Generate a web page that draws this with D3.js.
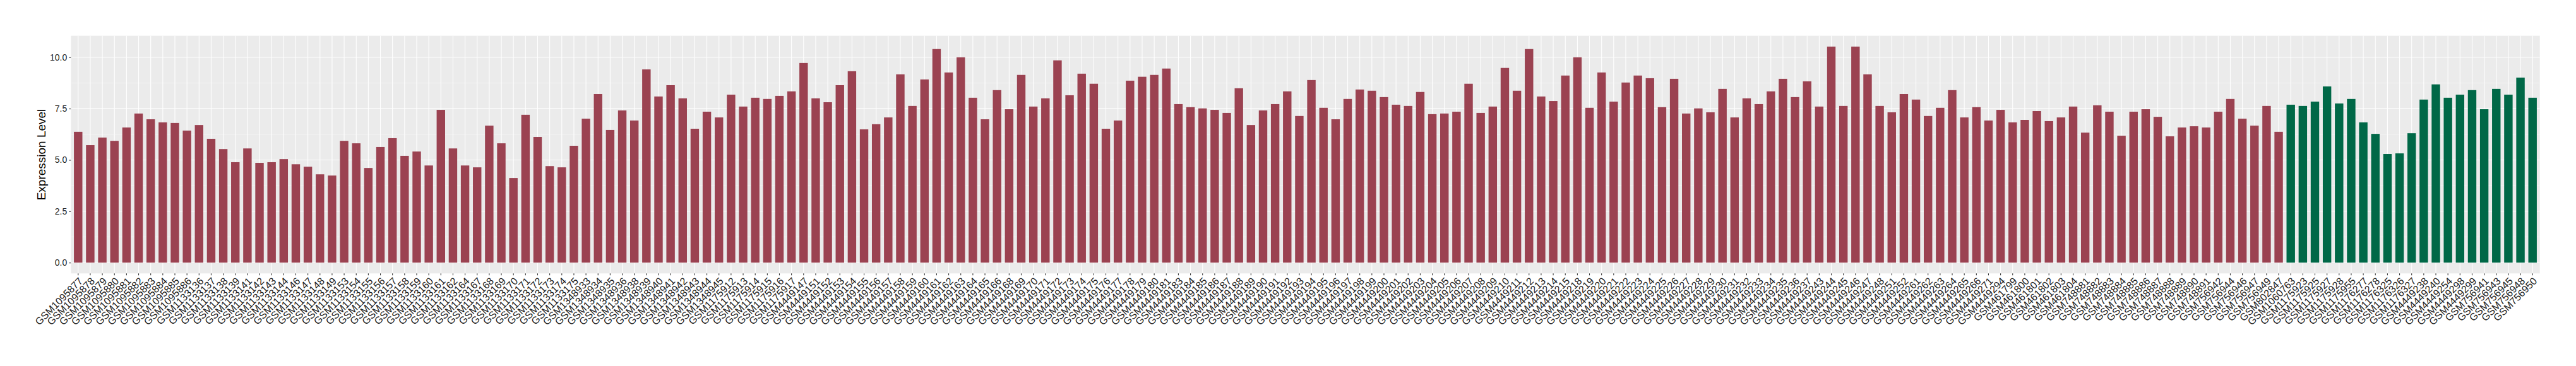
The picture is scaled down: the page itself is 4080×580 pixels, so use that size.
<!DOCTYPE html>
<html>
<head>
<meta charset="utf-8">
<script src="https://cdn.jsdelivr.net/npm/d3@7"></script>
<style>
  html, body { margin: 0; padding: 0; background: #ffffff; }
  svg { display: block; }
</style>
</head>
<body>
<svg id="chart" width="4080" height="580"></svg>
<script>
// ---- Data ----
const samples = [
  "GSM1095877","GSM1095878","GSM1095879","GSM1095880","GSM1095881","GSM1095882","GSM1095883","GSM1095884","GSM1095885","GSM1095886",
  "GSM1133136","GSM1133137","GSM1133138","GSM1133139","GSM1133141","GSM1133142","GSM1133143","GSM1133144","GSM1133146","GSM1133147",
  "GSM1133148","GSM1133149","GSM1133153","GSM1133154","GSM1133155","GSM1133156","GSM1133157","GSM1133158","GSM1133159","GSM1133160",
  "GSM1133161","GSM1133162","GSM1133164","GSM1133167","GSM1133168","GSM1133169","GSM1133170","GSM1133171","GSM1133172","GSM1133173",
  "GSM1133174","GSM1133175","GSM1348933","GSM1348934","GSM1348935","GSM1348936","GSM1348938","GSM1348939","GSM1348940","GSM1348941",
  "GSM1348942","GSM1348943","GSM1348944","GSM1348945","GSM1175912","GSM1175913","GSM1175914","GSM1175915","GSM1175916","GSM1175917",
  "GSM4449147","GSM4449151","GSM4449152","GSM4449153","GSM4449154","GSM4449155","GSM4449156","GSM4449157","GSM4449158","GSM4449159",
  "GSM4449160","GSM4449161","GSM4449162","GSM4449163","GSM4449164","GSM4449165","GSM4449166","GSM4449168","GSM4449169","GSM4449170",
  "GSM4449171","GSM4449172","GSM4449173","GSM4449174","GSM4449175","GSM4449176","GSM4449177","GSM4449178","GSM4449179","GSM4449180",
  "GSM4449181","GSM4449183","GSM4449184","GSM4449185","GSM4449186","GSM4449187","GSM4449188","GSM4449189","GSM4449190","GSM4449191",
  "GSM4449192","GSM4449193","GSM4449194","GSM4449195","GSM4449196","GSM4449197","GSM4449198","GSM4449199","GSM4449200","GSM4449201",
  "GSM4449202","GSM4449203","GSM4449204","GSM4449205","GSM4449206","GSM4449207","GSM4449208","GSM4449209","GSM4449210","GSM4449211",
  "GSM4449212","GSM4449213","GSM4449214","GSM4449215","GSM4449218","GSM4449219","GSM4449220","GSM4449221","GSM4449222","GSM4449223",
  "GSM4449224","GSM4449225","GSM4449226","GSM4449227","GSM4449228","GSM4449229","GSM4449230","GSM4449231","GSM4449232","GSM4449233",
  "GSM4449234","GSM4449235","GSM4449236","GSM4449237","GSM4449243","GSM4449244","GSM4449245","GSM4449246","GSM4449247","GSM4449248",
  "GSM4449251","GSM4449252","GSM4449261","GSM4449262","GSM4449263","GSM4449264","GSM4449265","GSM4449266","GSM4449271","GSM4449294",
  "GSM461799","GSM461800","GSM461801","GSM461802","GSM461803","GSM461804","GSM748881","GSM748882","GSM748883","GSM748884",
  "GSM748885","GSM748886","GSM748887","GSM748888","GSM748889","GSM748890","GSM748891","GSM756942","GSM756944","GSM756946",
  "GSM756947","GSM756949","GSM802847",
  "GSM1060763","GSM1175923","GSM1175925","GSM1175927","GSM1175928","GSM1175955","GSM1176277","GSM1176278","GSM1176325","GSM1176326",
  "GSM1176327","GSM4449238","GSM4449240","GSM4449254","GSM4449298","GSM4449299","GSM756941","GSM756943","GSM756945","GSM756948",
  "GSM756950"
];

const values = [
  6.37,5.72,6.09,5.93,6.58,7.26,6.98,6.83,6.80,6.43,
  6.70,6.03,5.53,4.89,5.56,4.86,4.89,5.04,4.79,4.67,
  4.30,4.24,5.93,5.81,4.61,5.63,6.06,5.20,5.41,4.73,
  7.44,5.56,4.73,4.64,6.67,5.81,4.12,7.20,6.12,4.70,
  4.64,5.69,7.01,8.21,6.46,7.41,6.92,9.41,8.09,8.64,
  8.00,6.52,7.35,7.07,8.18,7.60,8.03,7.97,8.12,8.34,
  9.72,8.00,7.81,8.64,9.32,6.49,6.74,7.07,9.17,7.63,
  8.92,10.40,9.26,10.00,8.03,6.98,8.40,7.47,9.14,7.60,
  8.00,9.85,8.15,9.20,8.71,6.52,6.92,8.86,9.05,9.14,
  9.45,7.72,7.57,7.51,7.44,7.29,8.49,6.70,7.41,7.72,
  8.34,7.14,8.89,7.54,6.98,7.97,8.43,8.37,8.06,7.69,
  7.63,8.31,7.23,7.26,7.35,8.71,7.29,7.60,9.48,8.37,
  10.40,8.09,7.87,9.11,10.00,7.54,9.26,7.84,8.77,9.11,
  8.98,7.57,8.95,7.26,7.51,7.32,8.46,7.07,8.00,7.72,
  8.34,8.95,8.06,8.83,7.60,10.52,7.63,10.52,9.17,7.63,
  7.32,8.21,7.94,7.14,7.54,8.40,7.07,7.57,6.92,7.44,
  6.83,6.95,7.38,6.89,7.07,7.60,6.33,7.66,7.35,6.18,
  7.35,7.47,7.10,6.15,6.58,6.64,6.58,7.35,7.97,7.01,
  6.67,7.63,6.37,
  7.69,7.63,7.84,8.58,7.75,7.97,6.83,6.27,5.29,5.32,
  6.30,7.94,8.68,8.03,8.18,8.40,7.47,8.46,8.18,9.01,
  8.03
];

// group of each sample: first 183 are group A (red), last 21 are group B (green)
const groups = samples.map((s, i) => i < 183 ? "A" : "B");
const groupColors = { A: "#9B4251", B: "#006847" };

const yTicks = [0, 2.5, 5, 7.5, 10];
const yTickLabels = ["0.0", "2.5", "5.0", "7.5", "10.0"];
const yTitle = "Expression Level";

// ---- Layout ----
const panel = { left: 112.3, right: 4022.7, top: 56.7, bottom: 433.3 };
const svg = d3.select("#chart");
const font = "'Liberation Sans', Arial, Helvetica, sans-serif";

const data = samples.map((s, i) => ({ sample: s, value: values[i], group: groups[i] }));

const x = d3.scaleBand()
  .domain(samples)
  .range([panel.left, panel.right])
  .paddingInner(0.3)
  .paddingOuter(0.25);

const vmax = d3.max(values);
const ex = vmax * 0.05;
const y = d3.scaleLinear()
  .domain([-ex, vmax + ex])
  .range([panel.bottom, panel.top]);

// panel background
svg.append("rect")
  .attr("x", panel.left).attr("y", panel.top)
  .attr("width", panel.right - panel.left)
  .attr("height", panel.bottom - panel.top)
  .attr("fill", "#EBEBEB");

// minor horizontal grid
const minor = [1.25, 3.75, 6.25, 8.75];
svg.append("g").selectAll("line").data(minor).join("line")
  .attr("x1", panel.left).attr("x2", panel.right)
  .attr("y1", d => y(d)).attr("y2", d => y(d))
  .attr("stroke", "#ffffff").attr("stroke-width", 0.6).attr("stroke-opacity", 0.8);

// major horizontal grid
svg.append("g").selectAll("line").data(yTicks).join("line")
  .attr("x1", panel.left).attr("x2", panel.right)
  .attr("y1", d => y(d)).attr("y2", d => y(d))
  .attr("stroke", "#ffffff").attr("stroke-width", 1.1);

// vertical major grid
svg.append("g").selectAll("line").data(samples).join("line")
  .attr("x1", d => x(d) + x.bandwidth() / 2).attr("x2", d => x(d) + x.bandwidth() / 2)
  .attr("y1", panel.top).attr("y2", panel.bottom)
  .attr("stroke", "#ffffff").attr("stroke-width", 1.1);

// bars
svg.append("g").selectAll("rect").data(data).join("rect")
  .attr("x", d => x(d.sample))
  .attr("width", x.bandwidth())
  .attr("y", d => y(Math.max(0, d.value)))
  .attr("height", d => Math.abs(y(0) - y(d.value)))
  .attr("fill", d => groupColors[d.group]);

// y axis
const yAxis = d3.axisLeft(y)
  .tickValues(yTicks)
  .tickFormat((d, i) => yTickLabels[i])
  .tickSize(3)
  .tickPadding(3);
const gy = svg.append("g").attr("transform", `translate(${panel.left},0)`).call(yAxis);
gy.select(".domain").remove();
gy.selectAll(".tick line").attr("stroke", "#333333").attr("stroke-width", 1.1);
gy.selectAll(".tick text")
  .attr("font-family", font).attr("font-size", 14).attr("fill", "#1a1a1a");

// x axis
const xAxis = d3.axisBottom(x).tickSize(3).tickPadding(0);
const gx = svg.append("g").attr("transform", `translate(0,${panel.bottom})`).call(xAxis);
gx.select(".domain").remove();
gx.selectAll(".tick line").attr("stroke", "#333333").attr("stroke-width", 1.1);
gx.selectAll(".tick text")
  .attr("font-family", font).attr("font-size", 16).attr("fill", "#1a1a1a")
  .attr("text-anchor", "end")
  .attr("y", 0).attr("dy", "0.72em")
  .attr("transform", "translate(0,5) rotate(-45)");

// y title
svg.append("text")
  .attr("transform", `translate(65,${(panel.top + panel.bottom) / 2}) rotate(-90)`)
  .attr("text-anchor", "middle")
  .attr("dy", "0.35em")
  .attr("font-family", font).attr("font-size", 19).attr("fill", "#000000")
  .text(yTitle);
</script>
</body>
</html>
